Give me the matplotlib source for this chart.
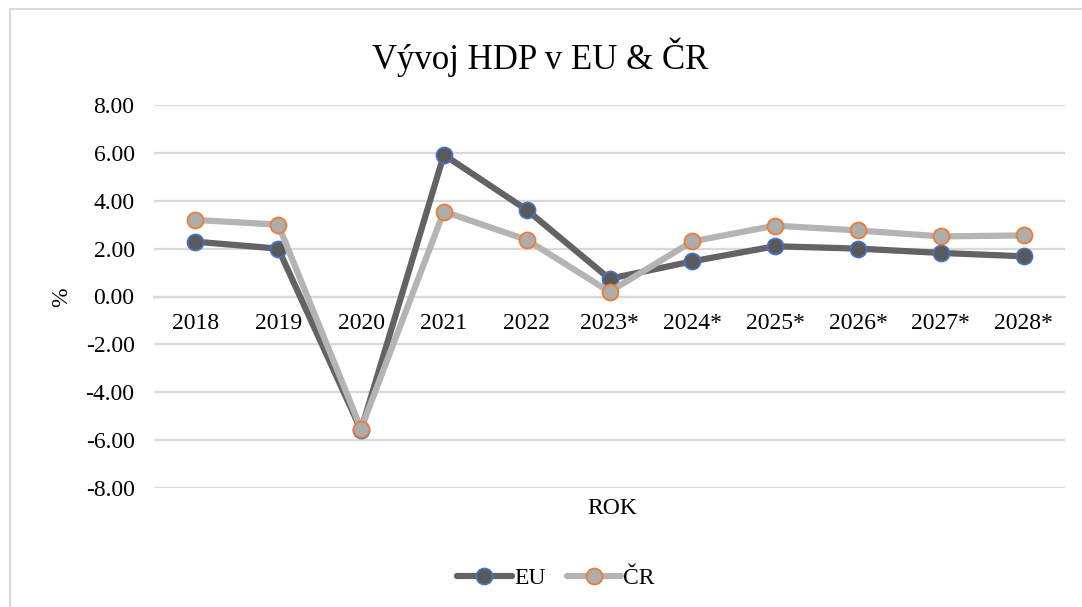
import matplotlib.pyplot as plt
from matplotlib.patches import Rectangle

# Data
years = ["2018", "2019", "2020", "2021", "2022", "2023*",
         "2024*", "2025*", "2026*", "2027*", "2028*"]
eu = [2.29, 2.00, -5.58, 5.92, 3.62, 0.74, 1.47, 2.10, 2.00, 1.82, 1.68]
cr = [3.20, 3.00, -5.52, 3.55, 2.37, 0.20, 2.30, 2.96, 2.76, 2.51, 2.55]
y_ticks = [8, 6, 4, 2, 0, -2, -4, -6, -8]

plt.rcParams['font.family'] = ['Liberation Serif', 'DejaVu Serif']

W, H = 1082, 607
fig = plt.figure(figsize=(W / 100, H / 100), dpi=100)

# outer chart frame (left/top visible)
fig.patches.append(Rectangle((10 / W, -0.05), 1.2, 1 - 8.5 / H + 0.05,
                             transform=fig.transFigure, fill=False,
                             edgecolor="#D9D9D9", linewidth=1.5))

ax = fig.add_axes([154 / W, 1 - 488 / H, 911 / W, 383 / H])

x = list(range(len(years)))

ax.plot(x, eu, color="#636363", linewidth=4.5, marker="o", markersize=11.5,
        markerfacecolor="#595959", markeredgecolor="#4472C4",
        markeredgewidth=1.3, label="EU", zorder=3, solid_capstyle="round")
ax.plot(x, cr, color="#B4B4B4", linewidth=4.5, marker="o", markersize=11.5,
        markerfacecolor="#ADADAD", markeredgecolor="#ED7D31",
        markeredgewidth=1.3, label="ČR", zorder=4, solid_capstyle="round")

ax.set_xlim(-0.5, len(years) - 0.5)
ax.set_ylim(-8, 8)
ax.set_yticks(y_ticks)
ax.set_yticklabels([f"{v:.2f}" for v in y_ticks])
ax.grid(axis="y", color="#D9D9D9", linewidth=1.6)
ax.set_axisbelow(True)

for s in ["top", "right", "left"]:
    ax.spines[s].set_visible(False)
ax.spines["bottom"].set_position(("data", 0))
ax.spines["bottom"].set_color("#D9D9D9")
ax.spines["bottom"].set_linewidth(1.6)

ax.set_xticks(x)
ax.set_xticklabels(years)
ax.tick_params(axis="x", length=0, pad=12, labelsize=17)
ax.tick_params(axis="y", length=0, pad=14, labelsize=17)

fig.text(612 / W, 1 - 509 / H, "ROK", ha="center", va="center", fontsize=17)
fig.text(62 / W, 1 - 297 / H, "%", ha="center", va="center", fontsize=17,
         rotation=90)
fig.text(540 / W, 1 - 57 / H, "Vývoj HDP v EU & ČR", ha="center",
         va="center", fontsize=25)

fig.legend(loc="center", bbox_to_anchor=(556 / W, 1 - 578 / H), ncol=2,
           frameon=False, fontsize=17, handlelength=2.3, columnspacing=0.9,
           handletextpad=0.1)

fig.savefig("out.png", dpi=100)
